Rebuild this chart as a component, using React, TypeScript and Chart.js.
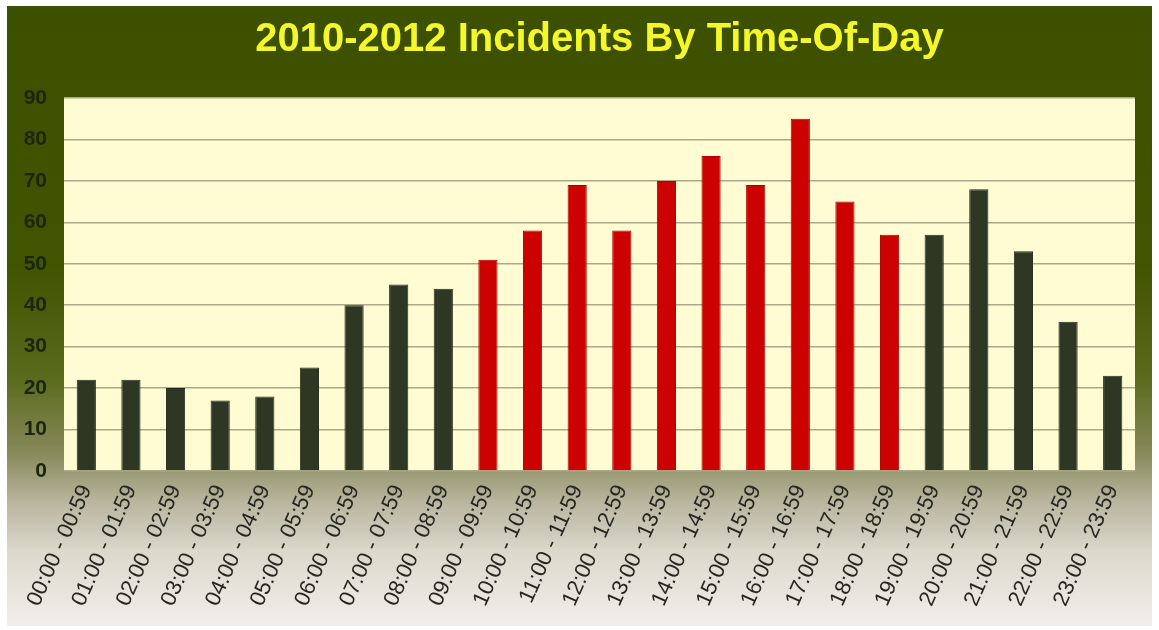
import React, { useEffect, useRef } from "react";
import { Chart, registerables } from "chart.js";

Chart.register(...registerables);

const categories = [
  "00:00 - 00:59", "01:00 - 01:59", "02:00 - 02:59", "03:00 - 03:59",
  "04:00 - 04:59", "05:00 - 05:59", "06:00 - 06:59", "07:00 - 07:59",
  "08:00 - 08:59", "09:00 - 09:59", "10:00 - 10:59", "11:00 - 11:59",
  "12:00 - 12:59", "13:00 - 13:59", "14:00 - 14:59", "15:00 - 15:59",
  "16:00 - 16:59", "17:00 - 17:59", "18:00 - 18:59", "19:00 - 19:59",
  "20:00 - 20:59", "21:00 - 21:59", "22:00 - 22:59", "23:00 - 23:59",
];

const incidents = [22, 22, 20, 17, 18, 25, 40, 45, 44, 51, 58, 69, 58, 70, 76, 69, 85, 65, 57, 57, 68, 53, 36, 23];

const peakCategories = [
  "09:00 - 09:59", "10:00 - 10:59", "11:00 - 11:59", "12:00 - 12:59",
  "13:00 - 13:59", "14:00 - 14:59", "15:00 - 15:59", "16:00 - 16:59",
  "17:00 - 17:59", "18:00 - 18:59",
];

const yMin = 0;
const yMax = 90;
const yStep = 10;

const titleText = "2010-2012 Incidents By Time-Of-Day";

const backgroundPlugin = {
  id: "panelBackground",
  beforeDraw(chart: any) {
    const { ctx, chartArea } = chart;
    const W = chart.width;
    const H = chart.height;
    ctx.save();
    ctx.fillStyle = "#ffffff";
    ctx.fillRect(0, 0, W, H);
    const px = 7, py = 6, pw = 1145, ph = 620;
    const g = ctx.createLinearGradient(0, py, 0, py + ph);
    g.addColorStop(0, "#3d5000");
    g.addColorStop(0.42, "#415400");
    g.addColorStop(0.6, "#5a6a1c");
    g.addColorStop(0.72, "#87895a");
    g.addColorStop(0.8, "#b9b59f");
    g.addColorStop(0.88, "#dcd8cc");
    g.addColorStop(1, "#f1efeb");
    ctx.fillStyle = g;
    ctx.fillRect(px, py, pw, ph);
    ctx.fillStyle = "#fffcd3";
    ctx.fillRect(chartArea.left, chartArea.top, chartArea.right - chartArea.left, chartArea.bottom - chartArea.top);
    ctx.restore();
  },
};

export default function App() {
  const canvasRef = useRef<HTMLCanvasElement | null>(null);

  useEffect(() => {
    document.body.style.margin = "0";
    const canvas = canvasRef.current;
    if (!canvas) return;
    const chart = new Chart(canvas, {
      type: "bar",
      data: {
        labels: categories,
        datasets: [
          {
            label: "Incidents",
            data: incidents,
            backgroundColor: (c: any) =>
              peakCategories.includes(categories[c.dataIndex]) ? "#cc0202" : "#2e3724",
            borderColor: (c: any) =>
              peakCategories.includes(categories[c.dataIndex]) ? "#b00000" : "#252c1c",
            borderWidth: 1,
            barPercentage: 0.43,
            categoryPercentage: 1,
          },
        ],
      },
      options: {
        responsive: false,
        animation: false,
        devicePixelRatio: 1,
        layout: { padding: { left: 0, right: 24, top: 0, bottom: 0 } },
        plugins: {
          legend: { display: false },
          tooltip: { enabled: false },
          title: {
            display: true,
            fullSize: false,
            text: titleText,
            color: "#f4f82a",
            font: { family: "'Liberation Sans', Arial, sans-serif", size: 40, weight: "bold" },
            padding: { top: 16, bottom: 34 },
          },
        },
        scales: {
          x: {
            grid: { display: false, drawTicks: false },
            border: { display: false },
            ticks: {
              color: "#262620",
              font: { family: "'Liberation Sans', Arial, sans-serif", size: 22 },
              minRotation: 66,
              maxRotation: 66,
              padding: 10,
              autoSkip: false,
            },
            afterFit(scale: any) {
              scale.height = 159;
            },
          },
          y: {
            min: yMin,
            max: yMax,
            grid: { color: "#aaa98a", lineWidth: 1.5, drawTicks: false },
            border: { display: false },
            ticks: {
              stepSize: yStep,
              color: "#1c260e",
              font: { family: "'Liberation Sans', Arial, sans-serif", size: 21, weight: "bold" },
              padding: 17,
            },
            afterFit(scale: any) {
              scale.width = 64;
            },
          },
        },
      },
      plugins: [backgroundPlugin],
    } as any);
    return () => chart.destroy();
  }, []);

  return (
    <div style={{ position: "absolute", left: 0, top: 0, width: 1159, height: 630 }}>
      <canvas ref={canvasRef} width={1159} height={630} />
    </div>
  );
}
